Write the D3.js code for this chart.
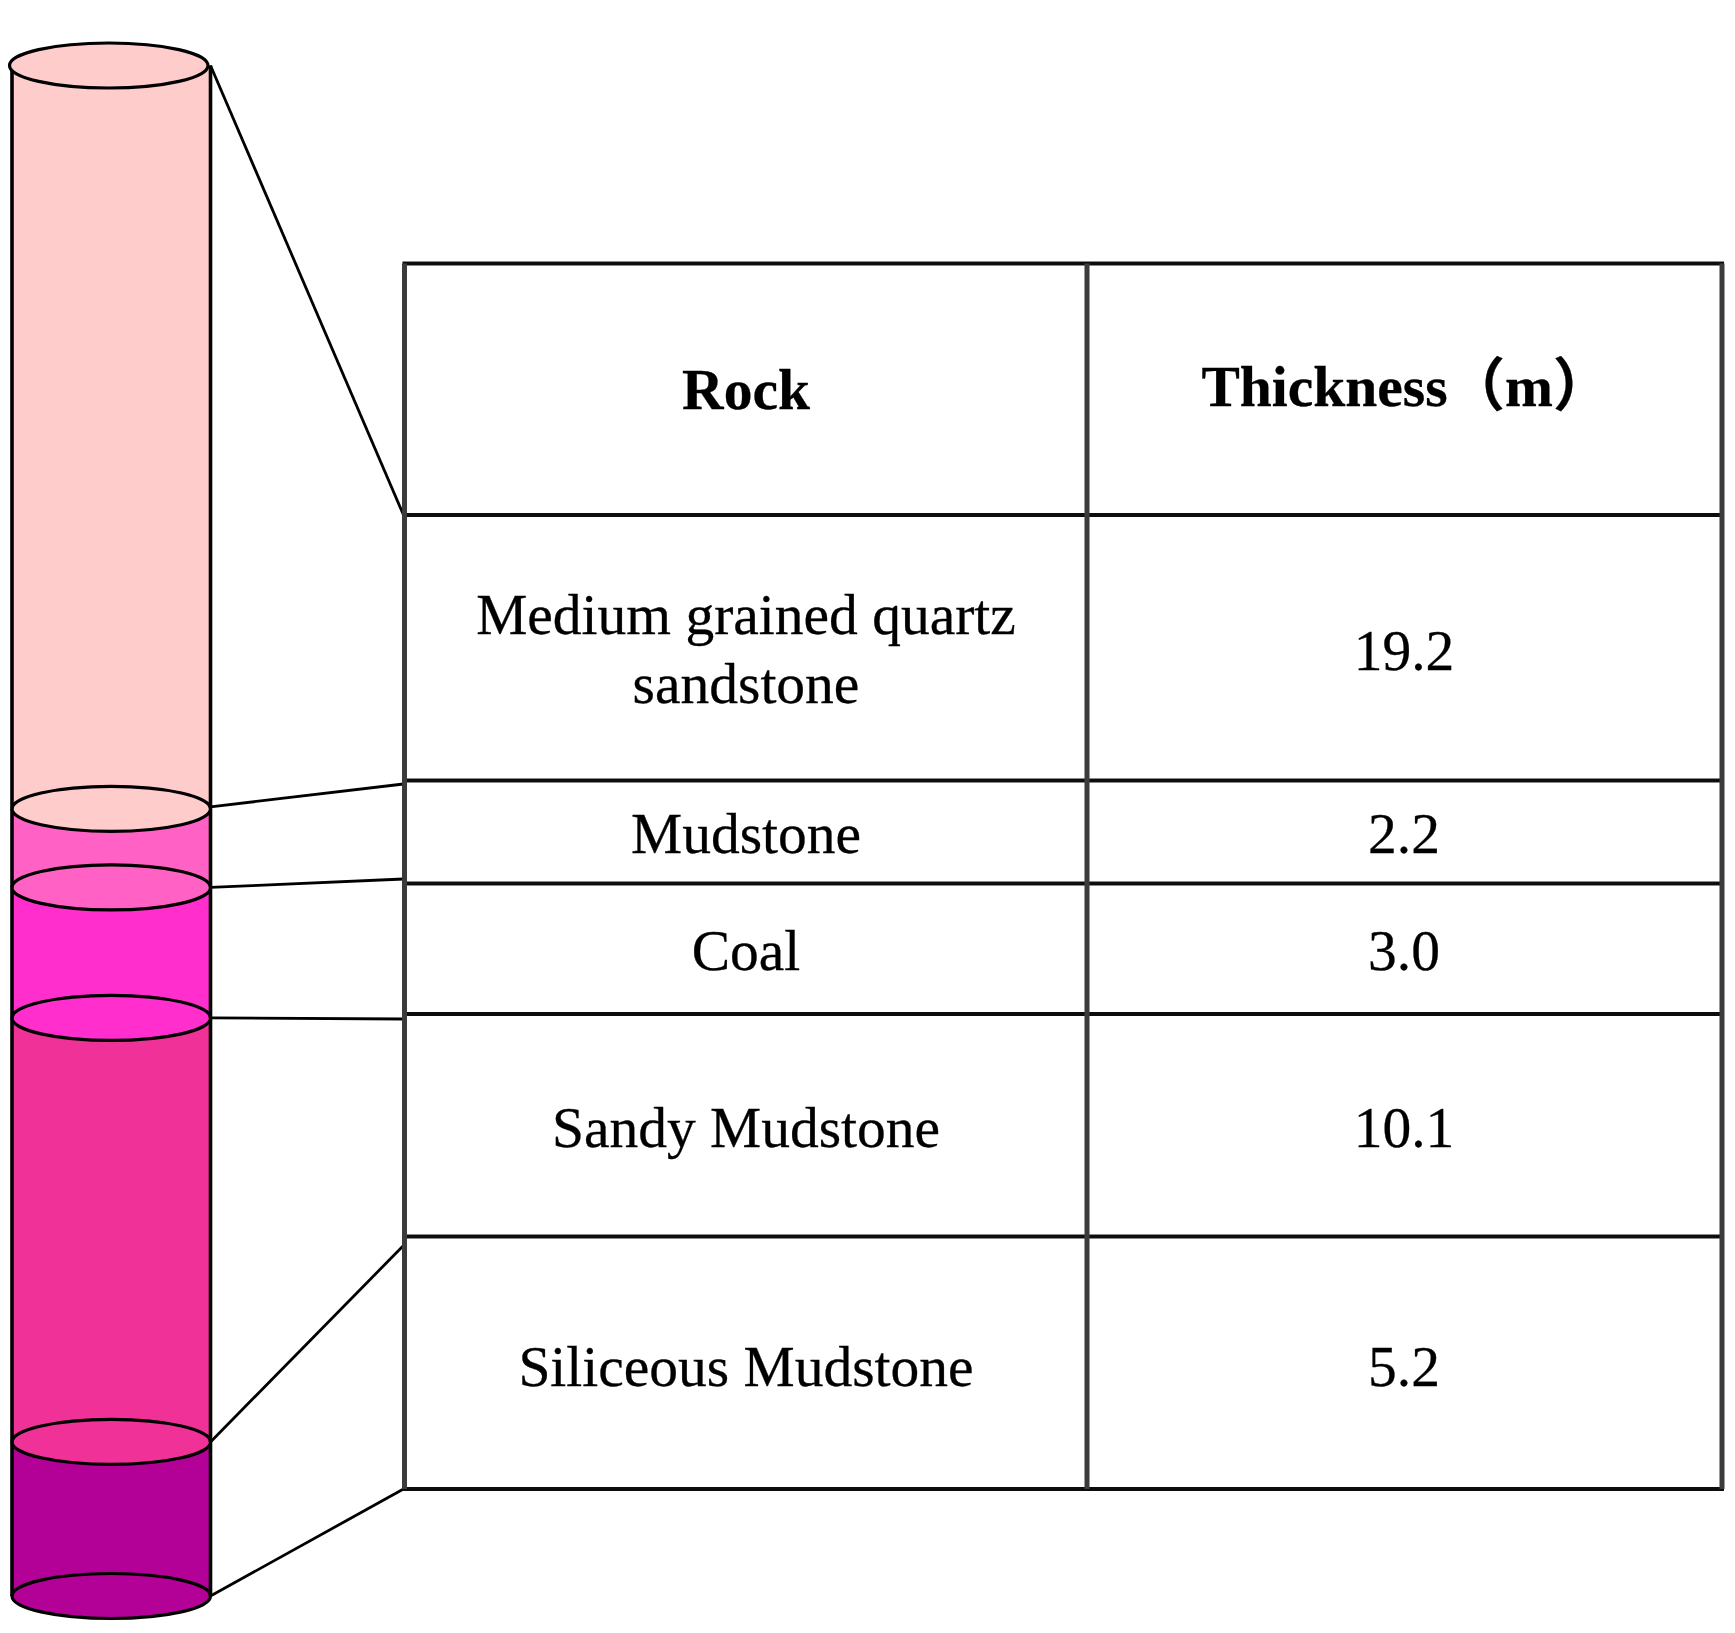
<!DOCTYPE html>
<html>
<head>
<meta charset="utf-8">
<title>Rock column</title>
<script src="https://cdn.jsdelivr.net/npm/d3@7/dist/d3.min.js"></script>
<style>
  html, body { margin: 0; padding: 0; background: #fff; }
  text { font-family: "Liberation Serif", "Noto Sans CJK SC", serif; fill: #000; stroke: #000; stroke-width: 0.3; text-anchor: middle; }
</style>
</head>
<body>
<div id="chart"></div>
<script>
// -------------------------
// DATA
// -------------------------
const rocks = ["Medium grained quartz\nsandstone", "Mudstone", "Coal", "Sandy Mudstone", "Siliceous Mudstone"];
const thicknessLabels = ["19.2", "2.2", "3.0", "10.1", "5.2"];
const headers = ["Rock", "Thickness（m）"];
// band heights as they are drawn in the column
const drawnThickness = [19.2, 2.03, 3.37, 10.95, 3.98];
const layerColors = ["#ffcccc", "#ff62c4", "#ff2fcc", "#f03098", "#b30096"];

// -------------------------
// LAYOUT
// -------------------------
const W = 1735, H = 1633;
const columnLeft = 12, columnRight = 210.5, capRy = 22.5, capShift = -2.5;
const columnTop = 65.5, columnBottom = 1596;
const colEdges = [404.5, 1087, 1722];
const rowEdges = [263.5, 515, 780.5, 883.5, 1014, 1236.5, 1489];

const svg = d3.select("#chart").append("svg").attr("width", W).attr("height", H)
  .style("display", "block");
svg.append("defs").append("filter").attr("id", "soft")
  .attr("filterUnits", "userSpaceOnUse")
  .attr("x", 0).attr("y", 0).attr("width", W).attr("height", H)
  .append("feGaussianBlur").attr("stdDeviation", 0.6);
const root = svg.append("g").attr("filter", "url(#soft)");

// cumulative depth along the column
const depths = [0];
drawnThickness.forEach(t => depths.push(depths[depths.length - 1] + t));
const y = d3.scaleLinear().domain([0, d3.sum(drawnThickness)]).range([columnTop, columnBottom]);
const rowY = d3.scaleLinear().domain(d3.range(rowEdges.length)).range(rowEdges);

const cx = (columnLeft + columnRight) / 2;
const rx = (columnRight - columnLeft) / 2;

// -------------------------
// COLUMN (drawn bottom up so each band's lower ellipse stays visible)
// -------------------------
const layers = drawnThickness.map((t, i) => ({ i, y0: y(depths[i]), y1: y(depths[i + 1]), color: layerColors[i] })).reverse();

const column = root.append("g");
layers.forEach(d => {
  const g = column.append("g");
  g.append("rect")
    .attr("x", columnLeft).attr("width", columnRight - columnLeft)
    .attr("y", d.y0).attr("height", d.y1 - d.y0)
    .attr("fill", d.color);
  g.append("ellipse")
    .attr("cx", cx).attr("cy", d.y1).attr("rx", rx).attr("ry", capRy)
    .attr("fill", d.color).attr("stroke", "#000").attr("stroke-width", 3.2);
  g.selectAll("line").data([columnLeft, columnRight]).enter().append("line")
    .attr("x1", v => v).attr("x2", v => v)
    .attr("y1", d.y0).attr("y2", d.y1)
    .attr("stroke", "#000").attr("stroke-width", 3.6);
});
// top cap sits a little left of the body
root.append("ellipse")
  .attr("cx", cx + capShift).attr("cy", columnTop).attr("rx", rx).attr("ry", capRy)
  .attr("fill", layerColors[0]).attr("stroke", "#000").attr("stroke-width", 3.2);

// -------------------------
// CONNECTORS: band boundary -> table row edge
// -------------------------
const connectorRowEnd = [1, 2, 3, 4, 5, 6];
const connectorTilt = [0, 3.5, -4.5, 5, 9, 0];
root.append("g").selectAll("line").data(connectorRowEnd).enter().append("line")
  .attr("x1", columnRight).attr("y1", (r, i) => y(depths[i]) - (i === 1 ? 2 : 0))
  .attr("x2", colEdges[0] - 1).attr("y2", (r, i) => rowY(r) + connectorTilt[i])
  .attr("stroke", "#000").attr("stroke-width", 2.8);

// -------------------------
// TABLE
// -------------------------
const table = root.append("g");
table.selectAll(".row").data(rowEdges).enter().append("line").attr("class", "row")
  .attr("x1", colEdges[0] - 2).attr("x2", colEdges[2] + 2)
  .attr("y1", d => d).attr("y2", d => d)
  .attr("stroke", "#111").attr("stroke-width", 4.2);
table.selectAll(".col").data(colEdges).enter().append("line").attr("class", "col")
  .attr("x1", d => d).attr("x2", d => d)
  .attr("y1", rowEdges[0]).attr("y2", rowEdges[rowEdges.length - 1])
  .attr("stroke", "#3a3a3a").attr("stroke-width", 5);

const textX = [746, 1405];
const fontSize = 57.5;

table.append("text").attr("x", textX[0]).attr("y", 409)
  .attr("font-size", fontSize).attr("font-weight", "bold").text(headers[0]);
table.append("text").attr("x", textX[1] + 1).attr("y", 406)
  .attr("font-size", fontSize).attr("font-weight", "bold").text(headers[1]);

const rockBaselines = [[633.5, 702.5], [852.5], [970], [1146.5], [1385.5]];
const valueBaselines = [670, 852.5, 970, 1146.5, 1385.5];

rocks.forEach((r, i) => {
  r.split("\n").forEach((line, k) => {
    table.append("text").attr("x", textX[0]).attr("y", rockBaselines[i][k])
      .attr("font-size", fontSize).text(line);
  });
});
table.selectAll(".val").data(thicknessLabels).enter().append("text").attr("class", "val")
  .attr("x", textX[1] - 1).attr("y", (d, i) => valueBaselines[i])
  .attr("font-size", fontSize).text(d => d);
</script>
</body>
</html>
